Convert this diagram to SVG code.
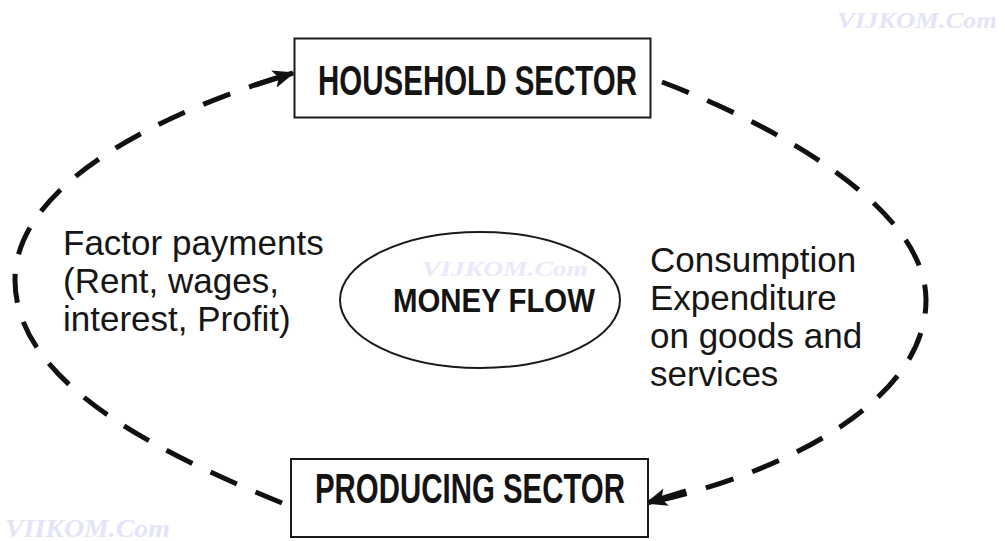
<svg xmlns="http://www.w3.org/2000/svg" width="1005" height="541" viewBox="0 0 1005 541">
  <style>
    .box { fill: #fff; stroke: #1a1a1a; stroke-width: 2; }
    .title { font-family: "Liberation Sans", Arial, sans-serif; font-weight: bold; fill: #141414; }
    .label { font-family: "Liberation Sans", Arial, sans-serif; font-size: 35px; fill: #161616; }
    .flow { fill: none; stroke: #111; stroke-width: 5; stroke-dasharray: 29 20; }
    .shaft { fill: none; stroke: #111; stroke-width: 5; }
    .wm { font-family: "Liberation Serif", "Times New Roman", serif; font-style: italic; font-weight: bold; fill: #e4e4f9; }
  </style>
  <defs>
    <marker id="arrow" viewBox="0 0 22 18" refX="20" refY="9" markerWidth="22" markerHeight="18" markerUnits="userSpaceOnUse" orient="auto">
      <path d="M0,0 L22,9 L0,18 L5,9 Z" fill="#111"/>
    </marker>
  </defs>
  <rect width="1005" height="541" fill="#fff"/>

  <g id="watermarks">
    <text class="wm" x="837" y="28" font-size="24" textLength="160" lengthAdjust="spacingAndGlyphs">VIJKOM.Com</text>
    <text class="wm" x="5" y="537" font-size="25" textLength="165" lengthAdjust="spacingAndGlyphs">VIIKOM.Com</text>
  </g>

  <g id="connectors">
    <path class="flow" d="M282,503 C165,455 15,385 15,280 C15,175 190,103 293,73"/>
    <path class="shaft" d="M255,85 L293,73" marker-end="url(#arrow)"/>
    <path class="flow" d="M662,82 C750,115 926,200 926,300 C926,410 760,480 647,503"/>
    <path class="shaft" d="M686,491 L647,503" marker-end="url(#arrow)"/>
  </g>

  <g id="household">
    <rect class="box" x="294.5" y="38.5" width="356" height="79"/>
    <text class="title" x="318" y="95" font-size="43" textLength="319" lengthAdjust="spacingAndGlyphs">HOUSEHOLD SECTOR</text>
  </g>

  <g id="producing">
    <rect class="box" x="291" y="459" width="357" height="78"/>
    <text class="title" x="315" y="503" font-size="42" textLength="310" lengthAdjust="spacingAndGlyphs">PRODUCING SECTOR</text>
  </g>

  <g id="money-flow">
    <ellipse class="box" cx="480" cy="300" rx="140" ry="68"/>
    <text class="wm" x="422" y="276" font-size="20" textLength="166" lengthAdjust="spacingAndGlyphs" opacity="0.8">VIJKOM.Com</text>
    <text class="title" x="393" y="312" font-size="33" textLength="202" lengthAdjust="spacingAndGlyphs">MONEY FLOW</text>
  </g>

  <g id="label-factor">
    <text class="label" x="63" y="255">Factor payments</text>
    <text class="label" x="63" y="293">(Rent, wages,</text>
    <text class="label" x="63" y="331">interest, Profit)</text>
  </g>

  <g id="label-consumption">
    <text class="label" x="650" y="272">Consumption</text>
    <text class="label" x="650" y="310">Expenditure</text>
    <text class="label" x="650" y="348">on goods and</text>
    <text class="label" x="650" y="386">services</text>
  </g>
</svg>
